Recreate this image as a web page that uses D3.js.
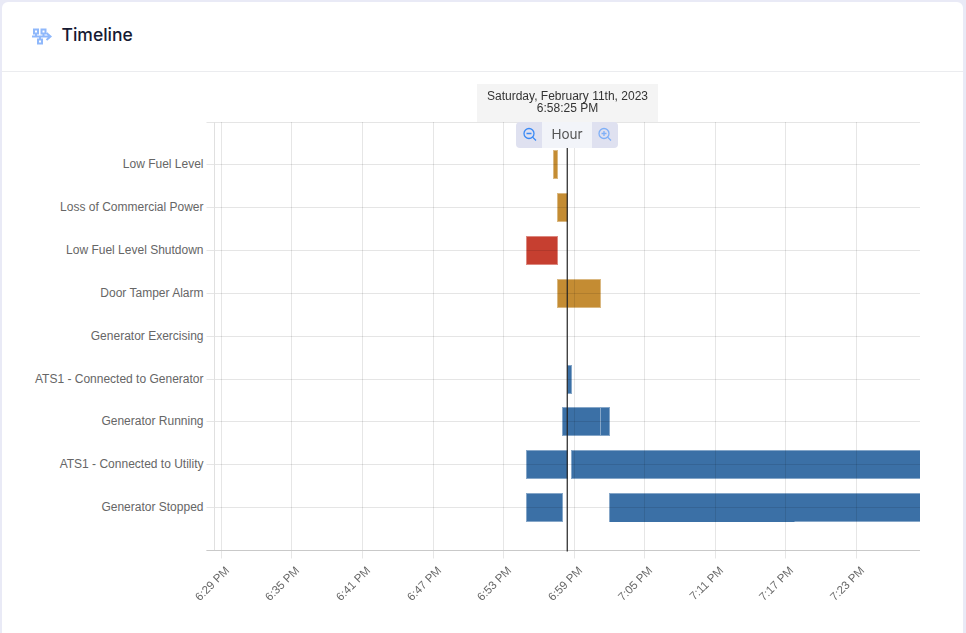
<!DOCTYPE html>
<html>
<head>
<meta charset="utf-8">
<title>Timeline</title>
<script src="https://cdn.jsdelivr.net/npm/d3@7"></script>
<style>
  body { margin: 0; background: #e9eaf6; overflow: hidden; }
  text { font-family: "Liberation Sans", Arial, sans-serif; }
  .title { font-family: Inter, "Noto Sans", sans-serif; font-size: 17.5px; font-weight: 500; fill: #161a33; }
  .axis text { font-size: 12px; fill: #666; }
  .axis .domain { display: none; }
  .axis line { stroke: rgba(0, 0, 0, 0.1); stroke-width: 1; }
  .axisx { opacity: 0.99; }
  .axisx text { font-size: 11.5px; }
</style>
</head>
<body>
<div id="chart"></div>
<script>
// chart values
var categories = ["Low Fuel Level", "Loss of Commercial Power", "Low Fuel Level Shutdown",
                  "Door Tamper Alarm", "Generator Exercising", "ATS1 - Connected to Generator",
                  "Generator Running", "ATS1 - Connected to Utility", "Generator Stopped"];
var tickLabels = ["18:29", "18:35", "18:41", "18:47", "18:53", "18:59",
                  "19:05", "19:11", "19:17", "19:23"];
var windowTimes = ["18:28:25", "19:28:25"];
var cursorTime = "18:58:25";

// [row, start, end]
var warningEvents = [
  ["Low Fuel Level", "18:57:12", "18:57:33"],
  ["Loss of Commercial Power", "18:57:33", "18:58:26"],
  ["Door Tamper Alarm", "18:57:33", "19:01:12"]
];
var alarmEvents = [
  ["Low Fuel Level Shutdown", "18:54:56", "18:57:33"]
];
var statusEvents = [
  ["ATS1 - Connected to Generator", "18:58:26", "18:58:44"],
  ["Generator Running", "18:57:58", "19:01:12"],
  ["Generator Running", "19:01:12", "19:02:00"],
  ["ATS1 - Connected to Utility", "18:54:56", "18:58:26"],
  ["ATS1 - Connected to Utility", "18:58:44", "19:40:00"],
  ["Generator Stopped", "18:54:56", "18:57:58"],
  ["Generator Stopped", "19:02:00", "19:40:00"]
];
// the earlier stretch of this bar has no pale lower edge
var darkEdges = [
  ["Generator Stopped", "19:02:00", "19:17:42"]
];

var colorWarning = "#c48c33", colorAlarm = "#c63f30", colorStatus = "#3b70a6";

var width = 966, height = 633;
var margin = { top: 122, right: 46, bottom: 82.5, left: 214.5 };

var parseFull = d3.timeParse("%Y-%m-%d %H:%M:%S");
function toTime(s) {
  return parseFull("2023-02-11 " + (s.length === 5 ? s + ":00" : s));
}
var fmtTick = d3.timeFormat("%-I:%M %p");

var svg = d3.select("#chart").append("svg")
  .attr("width", width).attr("height", height)
  .style("display", "block");

//==============================================================================
// card and header
//==============================================================================
svg.append("rect").attr("x", 2).attr("y", 2).attr("width", 961).attr("height", 640)
  .attr("rx", 6).attr("fill", "#fff");
svg.append("line").attr("x1", 2).attr("x2", 963).attr("y1", 71.5).attr("y2", 71.5)
  .attr("stroke", "#ebecef");
svg.append("text").attr("class", "title").attr("x", 61.5).attr("y", 41).text("Timeline");

// header icon
var icon = svg.append("g").attr("transform", "translate(32,28)")
  .attr("fill", "none").attr("stroke", "#8fb8fb").attr("stroke-width", 2);
icon.append("rect").attr("x", 2).attr("y", 1.5).attr("width", 4).attr("height", 4);
icon.append("rect").attr("x", 9.5).attr("y", 1.5).attr("width", 4).attr("height", 4);
icon.append("rect").attr("x", 6).attr("y", 11.5).attr("width", 4).attr("height", 4);
icon.append("path").attr("d", "M0 8.5H18.5M14.5 5L18.5 8.5L14.5 12M4 5.5V8.5M11.5 5.5V8.5M8 8.5V11.5");

//==============================================================================
// scales
//==============================================================================
var x = d3.scaleTime()
  .domain(windowTimes.map(toTime))
  .range([margin.left, width - margin.right]);

// blank rows at both ends leave the half-empty bands above and below the bars
var y = d3.scalePoint()
  .domain(["_top"].concat(categories, ["_bottom"]))
  .range([margin.top, height - margin.bottom]);

var plotBottom = height - margin.bottom;

//==============================================================================
// bars (under the grid, the grid lines show darker across them)
//==============================================================================
svg.append("clipPath").attr("id", "plot-clip").append("rect")
  .attr("x", margin.left).attr("y", margin.top)
  .attr("width", width - margin.right - margin.left)
  .attr("height", plotBottom - margin.top);

var bars = svg.append("g").attr("clip-path", "url(#plot-clip)");

function xEdge(t) { return Math.round(x(toTime(t))) + 0.5; }
function yBar(row) { return Math.floor(y(row) - 14) + 0.5; }

function drawBars(events, color) {
  bars.append("g").selectAll("rect").data(events).enter().append("rect")
    .attr("x", function(d) { return xEdge(d[1]); })
    .attr("y", function(d) { return yBar(d[0]); })
    .attr("width", function(d) { return xEdge(d[2]) - xEdge(d[1]); })
    .attr("height", 28)
    .attr("fill", color)
    .attr("stroke", d3.interpolateRgb(color, "#fff")(0.38));
}
drawBars(warningEvents, colorWarning);
drawBars(alarmEvents, colorAlarm);
drawBars(statusEvents, colorStatus);

bars.append("g").selectAll("line").data(darkEdges).enter().append("line")
  .attr("x1", function(d) { return xEdge(d[1]) + 0.5; })
  .attr("x2", function(d) { return xEdge(d[2]); })
  .attr("y1", function(d) { return yBar(d[0]) + 28; })
  .attr("y2", function(d) { return yBar(d[0]) + 28; })
  .attr("stroke", colorStatus);

//==============================================================================
// axes and grid
//==============================================================================
var axisX = d3.axisBottom(x)
  .tickValues(tickLabels.map(toTime))
  .tickFormat(fmtTick)
  .tickSize(plotBottom - margin.top + 8)
  .tickSizeOuter(0);
var axisY = d3.axisLeft(y)
  .tickFormat(function(d) { return d.charAt(0) === "_" ? "" : d; })
  .tickSize(8)
  .tickPadding(3);

var gy = svg.append("g").attr("class", "axis")
  .attr("transform", "translate(" + margin.left + ",0)").call(axisY);
// snap the grid to whole pixels, labels stay where the scale puts them
gy.selectAll("g.tick")
  .attr("transform", function(d) { return "translate(0," + (Math.floor(y(d)) + 0.5) + ")"; })
  .append("line")
  .attr("x1", 0).attr("x2", width - margin.right - margin.left);
gy.selectAll("text").attr("y", function(d) { return y(d) - 0.4 - (Math.floor(y(d)) + 0.5); });

var gx = svg.append("g").attr("class", "axis axisx")
  .attr("transform", "translate(0," + margin.top + ")").call(axisX);
gx.selectAll("g.tick")
  .attr("transform", function(d) { return "translate(" + (Math.floor(x(d)) + 0.5) + ",0)"; });
gx.selectAll("text")
  .attr("text-anchor", "end")
  .attr("transform", "translate(0," + (plotBottom - margin.top + 15) + ") rotate(-45)")
  .attr("x", 2).attr("y", 10).attr("dy", 0);

// left edge and baseline
svg.append("line").attr("x1", margin.left).attr("x2", margin.left)
  .attr("y1", margin.top).attr("y2", plotBottom).attr("stroke", "#e0e0e0");
svg.append("line").attr("x1", margin.left - 8).attr("x2", width - margin.right)
  .attr("y1", plotBottom).attr("y2", plotBottom).attr("stroke", "#c9c9c9");

//==============================================================================
// cursor, date box and zoom control
//==============================================================================
var cursorX = x(toTime(cursorTime));
svg.append("line").attr("x1", cursorX).attr("x2", cursorX)
  .attr("y1", 146).attr("y2", plotBottom + 1)
  .attr("stroke", "#222").attr("stroke-width", 1.2);

svg.append("rect").attr("x", 477).attr("y", 84).attr("width", 181).attr("height", 38)
  .attr("fill", "#f4f4f4");
var dateLabel = svg.append("text").attr("text-anchor", "middle")
  .attr("font-size", 12).attr("fill", "#333");
dateLabel.append("tspan").attr("x", 567.5).attr("y", 100).text("Saturday, February 11th, 2023");
dateLabel.append("tspan").attr("x", 567.5).attr("y", 111.5).text("6:58:25 PM");

svg.append("rect").attr("x", 516).attr("y", 122).attr("width", 102).attr("height", 26)
  .attr("rx", 4).attr("fill", "#dfe1f0");
svg.append("rect").attr("x", 542).attr("y", 122).attr("width", 50).attr("height", 26)
  .attr("fill", "#f2f4f9");
svg.append("text").attr("x", 567).attr("y", 139).attr("text-anchor", "middle")
  .style("font-family", "Inter, 'Noto Sans', sans-serif")
  .attr("font-size", 13.5).attr("fill", "#555").text("Hour");

function magnifier(cx, plus, color) {
  var g = svg.append("g").attr("transform", "translate(" + cx + ",133.5)")
    .attr("fill", "none").attr("stroke", color).attr("stroke-width", 1.3);
  g.append("circle").attr("r", 5);
  g.append("path").attr("d", "M3.6 3.6L7 7M-2.5 0H2.5" + (plus ? "M0 -2.5V2.5" : ""));
}
magnifier(529, false, "#3b8af5");
magnifier(604, true, "#7fb0f7");
</script>
</body>
</html>
